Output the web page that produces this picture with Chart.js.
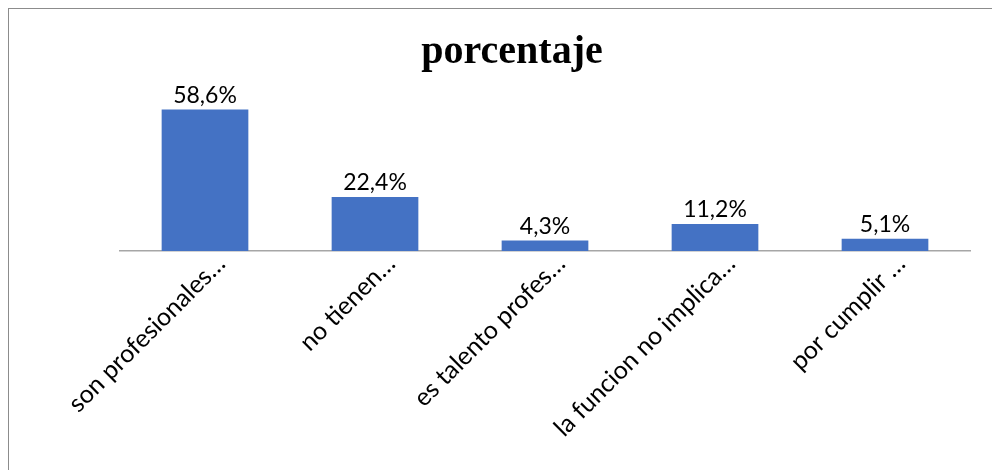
<!DOCTYPE html>
<html>
<head>
<meta charset="utf-8">
<script src="https://cdn.jsdelivr.net/npm/chart.js@4.4.1/dist/chart.umd.min.js"></script>
<style>
    html, body { margin: 0; padding: 0; background: #fff; overflow: hidden; }
    #frame { position: absolute; left: 8px; top: 8px; width: 1100px; height: 600px;
             border-left: 1px solid #8c8c8c; border-top: 1px solid #8c8c8c; }
    #wrap { position: absolute; left: 0; top: 0; width: 1024px; height: 470px; }
</style>
</head>
<body>
<div id="frame"></div>
<div id="wrap"><canvas id="chart"></canvas></div>
<script>
const categories = [
    'son profesionales…',
    'no tienen…',
    'es talento profes…',
    'la funcion no implica…',
    'por cumplir …'
];
const porcentaje = [58.6, 22.4, 4.3, 11.2, 5.1];
const chartTitle = 'porcentaje';

const fmt = v => v.toFixed(1).replace('.', ',') + '%';

// draws the value above each bar
const barLabels = {
    id: 'barLabels',
    afterDatasetsDraw(chart) {
        const ctx = chart.ctx;
        const meta = chart.getDatasetMeta(0);
        ctx.save();
        ctx.font = '23px Lato';
        ctx.fillStyle = '#000';
        ctx.textAlign = 'center';
        ctx.textBaseline = 'alphabetic';
        meta.data.forEach((bar, i) => {
            ctx.fillText(fmt(porcentaje[i]), bar.x, bar.y - 7);
        });
        ctx.restore();
    }
};

new Chart(document.getElementById('chart'), {
    type: 'bar',
    data: {
        labels: categories,
        datasets: [{
            label: chartTitle,
            data: porcentaje,
            backgroundColor: '#4472C4',
            categoryPercentage: 1,
            barPercentage: 0.51
        }]
    },
    options: {
        responsive: true,
        maintainAspectRatio: false,
        animation: false,
        layout: { padding: 0 },
        plugins: {
            legend: { display: false },
            tooltip: { enabled: false },
            title: {
                display: true,
                text: chartTitle,
                color: '#000',
                font: { family: 'Liberation Serif', size: 40, weight: 'bold' },
                padding: { top: 29, bottom: 5 }
            }
        },
        scales: {
            x: {
                grid: { display: false, drawTicks: false },
                border: { display: true, color: '#a6a6a6', width: 1.5 },
                ticks: {
                    color: '#000',
                    font: { family: 'Lato', size: 25 },
                    minRotation: 45,
                    maxRotation: 45,
                    padding: -2,
                    labelOffset: 16,
                    autoSkip: false
                },
                afterFit(scale) { scale.height = 219; }
            },
            y: {
                min: 0,
                max: 70,
                display: true,
                grid: { display: false },
                border: { display: false },
                ticks: { display: false },
                afterFit(scale) { scale.width = 120; }
            },
            y2: {
                position: 'right',
                display: true,
                grid: { display: false },
                border: { display: false },
                ticks: { display: false },
                afterFit(scale) { scale.width = 54; }
            }
        }
    },
    plugins: [barLabels]
});
</script>
</body>
</html>
